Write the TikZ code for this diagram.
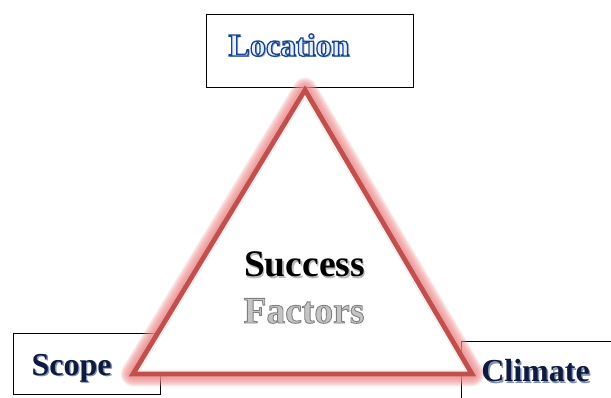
\documentclass[tikz,border=0pt]{standalone}
\usepackage{fontspec}
\setmainfont{Liberation Serif}
\definecolor{trired}{HTML}{C0504D}
\definecolor{glowc}{HTML}{EE8E8E}
\definecolor{locfill}{HTML}{E8F0FC}
\definecolor{navy}{HTML}{0E1B3E}
\definecolor{navyshadow}{HTML}{8090B8}
\definecolor{locshadow}{HTML}{A8B4C8}
\definecolor{facgray}{HTML}{C4C4C4}
\newcommand\outlinedtext[4]{{\color{#2}\special{pdf:literal direct 2 Tr #3 w #4 RG}#1\special{pdf:literal direct 0 Tr}}}
\begin{document}
\begin{tikzpicture}[x=1pt,y=-1pt,
  box/.style={draw=black, line width=0.9pt, fill=white},
  bigtxt/.style={font=\fontsize{32}{36}\selectfont\bfseries, anchor=base, inner sep=0pt},
  hugetxt/.style={font=\fontsize{37.5}{42}\selectfont\bfseries, anchor=base, inner sep=0pt},
  glowline/.style={line join=round, glowc, opacity=0.24}]
\useasboundingbox (0,0) rectangle (611,397);
\begin{scope}
\clip (0,0) rectangle (611,397);
% boxes
\node[box, minimum width=207pt, minimum height=73pt, inner sep=0pt] (locbox) at (309.5,50.5) {};
\node[box, minimum width=147pt, minimum height=61pt, inner sep=0pt] (scopebox) at (86.5,363.5) {};
\node[box, minimum width=170pt, minimum height=80pt, inner sep=0pt, anchor=north west] (climbox) at (461,341) {};
% triangle corners
\coordinate (apex) at (305,90);
\coordinate (bl) at (133,374);
\coordinate (br) at (472,374);
% outer glow
\foreach \w in {24,21,18,15,12,9}
  \draw[glowline, line width=\w pt] (apex) -- (bl) -- (br) -- cycle;
\fill[white] (apex) -- (bl) -- (br) -- cycle;
\draw[line join=round, glowc, opacity=0.15, line width=9pt] (apex) -- (bl) -- (br) -- cycle;
\draw[line join=miter, trired, line width=4.8pt] (apex) -- (bl) -- (br) -- cycle;
\end{scope}
% texts (soft shadow first, then the text)
\node[bigtxt, text=locshadow] at (290.6,57.6) {Location};
\node[bigtxt, text=locfill] (loctxt) at (289,56) {\outlinedtext{Location}{locfill}{1.3}{0.09 0.27 0.56}};
\node[hugetxt, text=gray!55] at (306,278) {Success};
\node[hugetxt, text=black] (succ) at (304.5,276.5) {Success};
\node[hugetxt] (fact) at (304,323) {\outlinedtext{Factors}{facgray}{0.9}{0.5 0.5 0.5}};
\node[bigtxt, text=navyshadow] at (73,376.5) {Scope};
\node[bigtxt, text=navy] (scopetxt) at (71.5,375) {Scope};
\node[bigtxt, text=navyshadow] at (537,383) {Climate};
\node[bigtxt, text=navy] (climtxt) at (535.5,381.5) {Climate};
\end{tikzpicture}
\end{document}
